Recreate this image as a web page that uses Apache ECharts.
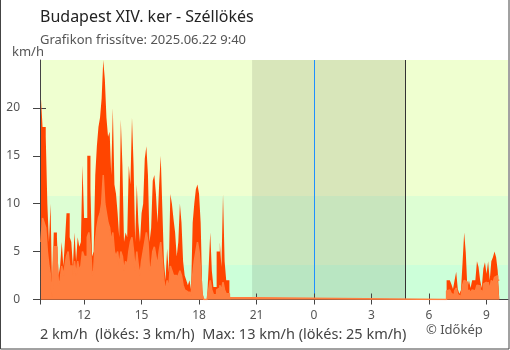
<!DOCTYPE html>
<html>
<head>
<meta charset="utf-8">
<script src="https://cdn.jsdelivr.net/npm/echarts@6/dist/echarts.min.js"></script>
<style>
  html, body { margin: 0; padding: 0; background: #fff; }
  #chart { width: 510px; height: 350px; }
</style>
</head>
<body>
<div id="chart"></div>
<script>
// Times are hours relative to midnight (negative = previous day).
const stepHours = 5 / 60;            // one reading every 5 minutes
const eveningStart = -14.25;         // 09:45 previous day
const morningStart = 6 + 55 / 60;    // 06:55

// Gusts and mean wind speed, km/h, 09:45 – 19:40
const eveningGust = [
  21, 18, 18, 17, 10, 6, 10, 0.8, 7, 7,
  6.5, 2.5, 3.5, 6, 3.5, 6, 9, 9, 6.5, 6,
  3.5, 7, 4, 6.5, 5.5, 6, 14, 8.5, 8.5, 15,
  15, 11.5, 4.5, 5, 13, 16, 18, 19, 21, 25,
  23, 19, 17, 17.5, 13, 20, 12, 11, 9, 6.5,
  18.8, 14, 6, 7, 6.5, 14, 12, 19, 14, 6,
  12, 8, 6, 9, 10, 14.7, 16, 13, 6, 7.5,
  12.4, 13, 11, 8, 12, 15, 9.5, 4, 2, 5.3,
  2.8, 11, 10, 8.4, 7, 4.5, 6, 10, 8, 4,
  2.5, 2, 1.5, 2, 1, 8, 10, 11.5, 12, 11,
  8, 1, 0, 0, 0, 3.4, 7, 3, 1.3, 1.3,
  5, 5, 6, 3.4, 11, 4, 2, 2, 0.5, 0
];
const eveningSpeed = [
  6, 8.5, 8, 7.5, 5, 3.5, 2.5, 0.3, 5.5, 5.5,
  4.5, 1.5, 2, 3.5, 2.5, 3.5, 4.5, 5, 3.5, 3.5,
  2.5, 4, 2.5, 4, 3, 3.5, 5, 4.5, 4.5, 6.5,
  7, 5.5, 2.5, 3, 6, 7.5, 8.5, 9, 10, 13,
  10, 9, 8, 7.5, 6, 7, 5, 4.5, 5, 3.5,
  5, 4.5, 3, 4, 3.5, 5, 6, 6.5, 5, 3,
  5, 3.5, 2.5, 4, 5, 6, 7, 6, 3, 3.5,
  5, 5.5, 4.5, 3.5, 5, 6, 4, 2, 0.8, 2,
  1, 3.5, 3, 2.5, 2.5, 2, 2.5, 3, 2.5, 1.5,
  1, 0.8, 0.5, 0.8, 0.4, 2.5, 4, 5, 6, 5,
  3, 0.4, 0, 0, 0, 1, 2, 1, 0.5, 0.5,
  1, 1.2, 1.5, 1, 1.8, 1, 0.6, 0.6, 0.2, 0
];
// 06:55 – 09:40
const morningGust = [
  2, 2, 2, 1.6, 1.1, 2, 2.9, 1.1, 0.6, 1,
  3.9, 7, 4.9, 1.2, 2, 1.2, 2, 2, 2, 4,
  3.4, 2, 1.2, 3.2, 3.9, 2.7, 4, 2, 4, 4.4,
  5, 4.4, 3, 3
];
const morningSpeed = [
  0.9, 1, 0.9, 0.6, 0.5, 0.9, 1.2, 0.5, 0.3, 0.5,
  1.5, 2, 1.8, 0.6, 1, 0.7, 1, 0.9, 1, 1.5,
  1.4, 1, 0.8, 1.6, 1.8, 1.4, 1.8, 1, 2, 1.7,
  2.3, 2.5, 2, 2
];

const hourTicks = [-12, -9, -6, -3, 0, 3, 6, 9];
const yTicks = [0, 5, 10, 15, 20];
const sunset = -(3 + 14 / 60);   // 20:46
const sunrise = 4.75;            // 04:45
// wind bands: 0–1 m/s, 1–3 m/s, above (in km/h)
const bandEdges = [0, 3.6, 10.8, 25];
const bandColors = ['#ccffd9', '#ddfed3', '#efffd0'];

const xMin = -14.3, xMax = 10.12;
const FONT = '"Noto Sans", "Open Sans", sans-serif';
const AXIS_COLOR = '#444';

const CHART_W = 510, CHART_H = 350;
const gridRect = { left: 40, right: 2, top: 60, bottom: 50.5 };
const plotW = CHART_W - gridRect.left - gridRect.right;
const plotH = CHART_H - gridRect.top - gridRect.bottom;

function toPoints(start, values) {
  return values.map((v, i) => [start + i * stepHours, v]);
}
const gustPoints = toPoints(eveningStart, eveningGust).concat(toPoints(morningStart, morningGust));
const speedPoints = toPoints(eveningStart, eveningSpeed).concat(toPoints(morningStart, morningSpeed));

const allSpeed = eveningSpeed.concat(morningSpeed);
const allGust = eveningGust.concat(morningGust);
const r = v => Math.round(v);
const summary = `${r(allSpeed[allSpeed.length - 1])} km/h  (lökés: ${r(allGust[allGust.length - 1])} km/h)  ` +
  `Max: ${r(Math.max(...allSpeed))} km/h (lökés: ${r(Math.max(...allGust))} km/h)`;

const bandAreas = bandColors.map((c, i) => [
  { yAxis: bandEdges[i], itemStyle: { color: c } },
  { yAxis: bandEdges[i + 1] }
]);

const noSplit = { show: false };

const chart = echarts.init(document.getElementById('chart'), null, { renderer: 'canvas' });
chart.setOption({
  animation: false,
  backgroundColor: '#fff',
  textStyle: { fontFamily: FONT },
  grid: gridRect,
  xAxis: [
    {
      type: 'value', min: xMin, max: xMax, position: 'bottom', z: 2,
      axisLine: { show: true, onZero: false, lineStyle: { color: AXIS_COLOR, width: 1 } },
      axisTick: { show: true, length: 5, customValues: [xMin].concat(hourTicks), lineStyle: { color: AXIS_COLOR } },
      axisLabel: {
        customValues: hourTicks, color: '#555', fontSize: 12, fontFamily: FONT, margin: 10,
        formatter: v => String((Math.round(v) + 24) % 24)
      },
      splitLine: noSplit
    },
    {
      // companion axis moved onto the bottom edge: its outward ticks point up into the plot
      type: 'value', min: xMin, max: xMax, position: 'top', offset: -plotH, z: 2,
      axisLine: { show: false, onZero: false },
      axisTick: { show: true, length: 6, customValues: hourTicks, lineStyle: { color: AXIS_COLOR, width: 1 } },
      axisLabel: { show: false },
      splitLine: noSplit
    }
  ],
  yAxis: [
    {
      type: 'value', min: 0, max: 25, position: 'left', z: 2,
      axisLine: { show: true, onZero: false, lineStyle: { color: AXIS_COLOR, width: 1 } },
      axisTick: { show: true, length: 7, customValues: yTicks, lineStyle: { color: AXIS_COLOR } },
      axisLabel: { customValues: yTicks, color: '#555', fontSize: 12, fontFamily: FONT, margin: 20 },
      splitLine: noSplit
    },
    {
      // companion axis moved onto the left edge: its outward ticks point right into the plot
      type: 'value', min: 0, max: 25, position: 'right', offset: -plotW, z: 2,
      axisLine: { show: false, onZero: false },
      axisTick: { show: true, length: 6, customValues: yTicks, lineStyle: { color: AXIS_COLOR, width: 1 } },
      axisLabel: { show: false },
      splitLine: noSplit
    }
  ],
  graphic: [
    { type: 'text', left: 40, top: 9, style: { text: 'Budapest XIV. ker - Széllökés', font: '16px ' + FONT, fill: '#222' } },
    { type: 'text', left: 40, top: 34, style: { text: 'Grafikon frissítve: 2025.06.22 9:40', font: '13px ' + FONT, fill: '#555' } },
    { type: 'text', left: 12, top: 46, style: { text: 'km/h', font: '13px ' + FONT, fill: '#555' } },
    { type: 'text', left: 40, top: 327, style: { text: summary, font: '14.5px ' + FONT, fill: '#444' } },
    { type: 'text', left: 426, top: 324, style: { text: '© Időkép', font: '13px ' + FONT, fill: '#555' } },
    { type: 'polyline', silent: true, shape: { points: [[0.5, 0], [0.5, 349], [509, 349], [509, 0]] },
      style: { stroke: '#444', lineWidth: 1, fill: null } }
  ],
  series: [
    {
      // background bands, night shading, midnight and sunrise markers
      type: 'line', xAxisIndex: 0, yAxisIndex: 0, z: 0, silent: true, showSymbol: false,
      data: speedPoints, lineStyle: { width: 0, opacity: 0 },
      markArea: {
        silent: true, z: 0,
        data: bandAreas.concat([[
          { xAxis: sunset, itemStyle: { color: 'rgba(20,10,0,0.1)' } },
          { xAxis: sunrise }
        ]])
      },
      markLine: {
        silent: true, z: 1, symbol: ['none', 'none'], label: { show: false },
        data: [
          { xAxis: 0, lineStyle: { color: '#1e90ff', width: 1, type: 'solid' } },
          { xAxis: sunrise, lineStyle: { color: '#333', width: 1, type: 'solid' } }
        ]
      }
    },
    {
      name: 'Széllökés', type: 'line', xAxisIndex: 0, yAxisIndex: 0, z: 3, step: 'end', showSymbol: false,
      data: gustPoints,
      lineStyle: { width: 0 },
      areaStyle: { color: '#ff4500', opacity: 1 },
      itemStyle: { color: '#ff4500' }
    },
    {
      name: 'Szélsebesség', type: 'line', xAxisIndex: 0, yAxisIndex: 0, z: 4, step: 'end', showSymbol: false,
      data: speedPoints,
      lineStyle: { width: 1.5, color: '#ff7f3f' },
      areaStyle: { color: '#ff7f3f', opacity: 1 },
      itemStyle: { color: '#ff7f3f' }
    }
  ]
});
</script>
</body>
</html>
